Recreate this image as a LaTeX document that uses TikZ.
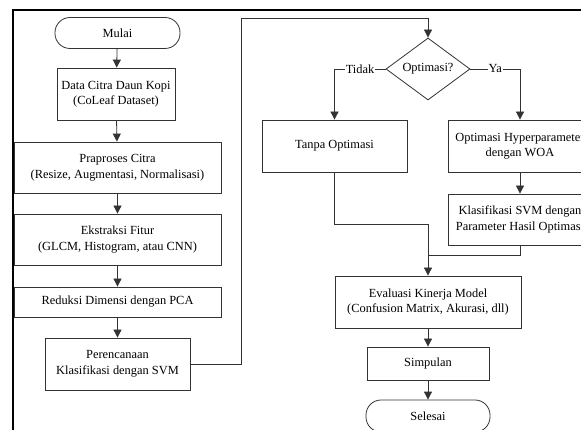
\documentclass[tikz,border=0pt]{standalone}
\usepackage{fontspec}
\setmainfont{Liberation Serif}
\usepackage{tikz}
\usetikzlibrary{arrows.meta,shapes.geometric}
\tikzstyle{prosesbox} = [draw=black!80, line width=0.8pt, fill=white,
    rectangle, inner sep=0pt, align=center]
\tikzstyle{terminal} = [prosesbox, rounded corners=15pt]
\tikzstyle{keputusan} = [draw=black!80, line width=0.8pt, fill=white,
    diamond, inner sep=0pt, aspect=1.35, minimum width=84pt, minimum height=62pt]
\tikzstyle{panah} = [draw=black!80, line width=0.8pt, -{Triangle[length=8pt,width=8pt]}]
\tikzstyle{garis} = [draw=black!80, line width=0.8pt]
\tikzstyle{label} = [fill=white, inner sep=1pt]

\begin{document}
\begin{tikzpicture}[x=1pt, y=-1pt, font=\fontsize{12.4}{15.5}\selectfont]
                \clip (0,0) rectangle (581,430);
                \fill[white] (0,0) rectangle (581,430);
                % kolom kiri
                \node [terminal, minimum width=125pt, minimum height=31pt] (mulai) at (117.5,33) {Mulai};
                \node [prosesbox, minimum width=118pt, minimum height=52pt] (data) at (116,94) {Data Citra Daun Kopi\\(CoLeaf Dataset)};
                \node [prosesbox, minimum width=207pt, minimum height=51pt] (praproses) at (117.5,167.5) {Praproses Citra\\(Resize, Augmentasi, Normalisasi)};
                \node [prosesbox, minimum width=207pt, minimum height=51pt] (ekstraksi) at (117.5,239.5) {Ekstraksi Fitur\\(GLCM, Histogram, atau CNN)};
                \node [prosesbox, minimum width=207pt, minimum height=30pt] (reduksi) at (117.5,302) {Reduksi Dimensi dengan PCA};
                \node [prosesbox, minimum width=145pt, minimum height=52pt] (perencanaan) at (117.5,364) {Perencanaan\\Klasifikasi dengan SVM};
                % kolom kanan
                \node [keputusan] (optimasi) at (428,69) {Optimasi?};
                \node [prosesbox, minimum width=145pt, minimum height=52pt] (tanpa) at (334.5,146) {Tanpa Optimasi};
                \node [prosesbox, minimum width=144pt, minimum height=52pt] (hyper) at (520,146) {Optimasi Hyperparameter\\dengan WOA};
                \node [prosesbox, minimum width=144pt, minimum height=51pt] (klasifikasi) at (520,219.5) {Klasifikasi SVM dengan\\Parameter Hasil Optimasi};
                \node [prosesbox, minimum width=186pt, minimum height=52pt] (evaluasi) at (428,302) {Evaluasi Kinerja Model\\(Confusion Matrix, Akurasi, dll)};
                \node [prosesbox, minimum width=122pt, minimum height=33pt] (simpulan) at (428,363.5) {Simpulan};
                \node [terminal, minimum width=124pt, minimum height=32pt] (selesai) at (428,416) {Selesai};
                \coordinate (belok) at (241,18);
                \coordinate (gabung1) at (428,224);
                \coordinate (gabung2) at (428,255);
                % panah
                \draw [panah] (mulai) -- (data);
                \draw [panah] (data) -- (praproses);
                \draw [panah] (praproses) -- (ekstraksi);
                \draw [panah] (ekstraksi) -- (reduksi);
                \draw [panah] (reduksi.south -| perencanaan.north) -- (perencanaan);
                \draw [panah] (perencanaan.east) -| (belok) -| (optimasi.north);
                \draw [panah] (optimasi.west) -| node[label, pos=0.25] {Tidak} (tanpa.north);
                \draw [panah] (optimasi.east) -| node[label, pos=0.25] {Ya} (hyper.north);
                \draw [panah] (hyper) -- (klasifikasi);
                \draw [panah] (tanpa.south) |- (gabung1) -- (evaluasi.north);
                \draw [garis] (klasifikasi.south) |- (gabung2);
                \draw [panah] (evaluasi) -- (simpulan);
                \draw [panah] (simpulan) -- (selesai);
                % bingkai
                \draw [black, line width=2pt] (13,430) -- (13,10) -- (581,10);
            \end{tikzpicture}
\end{document}
